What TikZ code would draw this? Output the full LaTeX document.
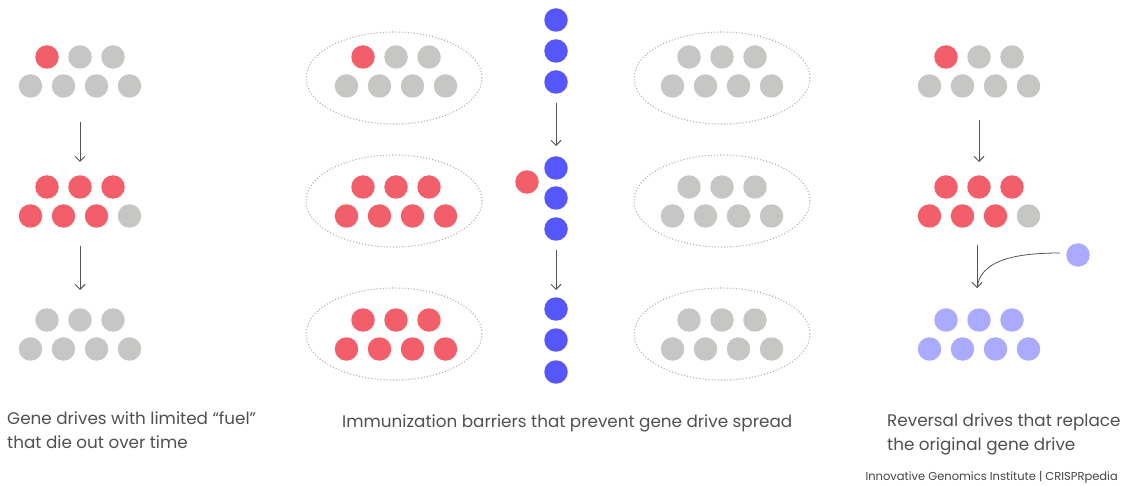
\documentclass[tikz,border=0pt]{standalone}
\usepackage{fontspec}
\setmainfont{Poppins}
\usetikzlibrary{arrows.meta,shapes.geometric}
\definecolor{dred}{HTML}{F25F6A}
\definecolor{dgray}{HTML}{C6C6C4}
\definecolor{dblue}{HTML}{5656FF}
\definecolor{dlav}{HTML}{AAAAFF}
\definecolor{arr}{HTML}{555555}
\definecolor{txt}{HTML}{505050}
\tikzset{
  dot/.style={circle,inner sep=0pt,minimum size=23.5pt},
  rd/.style={dot,fill=dred},
  gy/.style={dot,fill=dgray},
  bl/.style={dot,fill=dblue},
  lv/.style={dot,fill=dlav},
  arrowline/.style={draw=arr,line width=0.9pt,-{Straight Barb[length=5pt,width=10pt]}},
  barrier/.style={draw=gray!60,line width=1.1pt,dotted},
  caption/.style={anchor=base west,align=left,text=txt,inner sep=0pt,font=\fontsize{16.8}{23.5}\selectfont},
}
\begin{document}
\begin{tikzpicture}[x=1pt,y=-1pt]
\useasboundingbox (0,0) rectangle (1124,486);
\def\grp#1#2#3#4#5#6#7#8#9{%
  \node[#3] (#1a) at (#2-33,#9) {};
  \node[#4] (#1b) at (#2,#9) {};
  \node[#5] (#1c) at (#2+33,#9) {};
  \node[#6] (#1d) at (#2-49.5,#9+29) {};
  \node[#7] (#1e) at (#2-16.5,#9+29) {};
  \node[#8] (#1f) at (#2+16.5,#9+29) {};
}
% left
\grp{La}{80}{rd}{gy}{gy}{gy}{gy}{gy}{57}\node[gy] (Lag) at (80+49.5,86) {};
\grp{Lb}{80}{rd}{rd}{rd}{rd}{rd}{rd}{187}\node[gy] (Lbg) at (80+49.5,216) {};
\grp{Lc}{80}{gy}{gy}{gy}{gy}{gy}{gy}{320}\node[gy] (Lcg) at (80+49.5,349) {};
% middle left
\grp{Ma}{396}{rd}{gy}{gy}{gy}{gy}{gy}{57}\node[gy] (Mag) at (396+49.5,86) {};
\grp{Mb}{396}{rd}{rd}{rd}{rd}{rd}{rd}{187}\node[rd] (Mbg) at (396+49.5,216) {};
\grp{Mc}{396}{rd}{rd}{rd}{rd}{rd}{rd}{320}\node[rd] (Mcg) at (396+49.5,349) {};
% middle right
\grp{Na}{722}{gy}{gy}{gy}{gy}{gy}{gy}{57}\node[gy] (Nag) at (722+49.5,86) {};
\grp{Nb}{722}{gy}{gy}{gy}{gy}{gy}{gy}{187}\node[gy] (Nbg) at (722+49.5,216) {};
\grp{Nc}{722}{gy}{gy}{gy}{gy}{gy}{gy}{320}\node[gy] (Ncg) at (722+49.5,349) {};
% right
\grp{Ra}{979}{rd}{gy}{gy}{gy}{gy}{gy}{57}\node[gy] (Rag) at (979+49.5,86) {};
\grp{Rb}{979}{rd}{rd}{rd}{rd}{rd}{rd}{187}\node[gy] (Rbg) at (979+49.5,216) {};
\grp{Rc}{979}{lv}{lv}{lv}{lv}{lv}{lv}{320}\node[lv] (Rcg) at (979+49.5,349) {};
% barriers
\foreach \cx/\cy/\n in {394/78/ea,394/201/eb,394/334/ec,722/78/ed,722/201/ee,722/334/ef}
  \node[barrier,ellipse,minimum width=176pt,minimum height=92pt] (\n) at (\cx,\cy) {};
% blue column
\foreach \y/\n in {20/1,51/2,82/3,168/4,198/5,229/6,309/7,340/8,372/9}
  \node[bl] (B\n) at (556,\y) {};
\node[rd] (Bred) at (527,182) {};
% lavender free dot
\node[lv] (Rlv) at (1078,255) {};
% arrow coordinates
\coordinate (a1s) at (80,122); \coordinate (a1e) at (80,162);
\coordinate (a2s) at (80,246); \coordinate (a2e) at (80,290);
\coordinate (a3s) at (556,103); \coordinate (a3e) at (556,146);
\coordinate (a4s) at (556,250); \coordinate (a4e) at (556,290);
\coordinate (a5s) at (979,120); \coordinate (a5e) at (979,162);
\coordinate (a6s) at (977,245); \coordinate (a6e) at (977,288);
\coordinate (cst) at (1060,253);
\draw[arrowline] (a1s) -- (a1e);
\draw[arrowline] (a2s) -- (a2e);
\draw[arrowline] (a3s) -- (a3e);
\draw[arrowline] (a4s) -- (a4e);
\draw[arrowline] (a5s) -- (a5e);
\draw[arrowline] (a6s) -- (a6e);
\draw[draw=arr,line width=0.8pt] (cst) .. controls (1010,253) and (980,262) .. (a6e);
% captions
\node[caption] (t1) at (7,448) {Gene drives with limited “fuel”\\that die out over time};
\node[caption] (t2) at (342,427) {Immunization barriers that prevent gene drive spread};
\node[caption] (t3) at (887,450) {Reversal drives that replace\\the original gene drive};
\node[anchor=base east,inner sep=0pt,text=txt!85!black,font=\fontsize{11.5}{13}\selectfont] (t4) at (1118,480) {Innovative Genomics Institute | CRISPRpedia};
\end{tikzpicture}
\end{document}
